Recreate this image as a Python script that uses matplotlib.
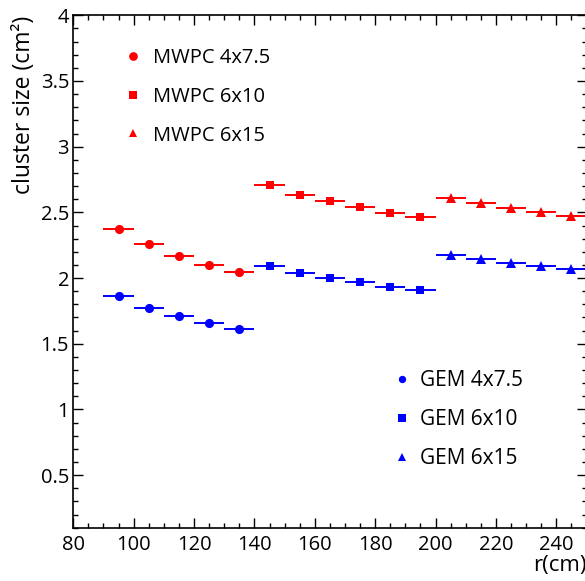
import matplotlib
matplotlib.use("Agg")
import matplotlib.pyplot as plt
from matplotlib.ticker import MultipleLocator, FuncFormatter
from matplotlib.lines import Line2D

plt.rcParams['font.family'] = ['Open Sans', 'DejaVu Sans']

# Cluster size vs radius for each chamber type and pad geometry
r_4x75 = [95, 105, 115, 125, 135]
r_6x10 = [145, 155, 165, 175, 185, 195]
r_6x15 = [205, 215, 225, 235, 245]
bin_half_width = 5

mwpc_4x75 = [2.37, 2.26, 2.17, 2.10, 2.05]
mwpc_6x10 = [2.71, 2.635, 2.585, 2.54, 2.495, 2.465]
mwpc_6x15 = [2.61, 2.575, 2.535, 2.505, 2.47]

gem_4x75 = [1.86, 1.775, 1.71, 1.655, 1.615]
gem_6x10 = [2.09, 2.035, 2.0, 1.97, 1.935, 1.91]
gem_6x15 = [2.175, 2.145, 2.115, 2.095, 2.07]

mwpc_labels = ["MWPC 4x7.5", "MWPC 6x10", "MWPC 6x15"]
gem_labels = ["GEM 4x7.5", "GEM 6x10", "GEM 6x15"]

W, H = 585, 581
fig = plt.figure(figsize=(W / 100, H / 100), dpi=100)
ax = fig.add_axes([73.3 / W, (H - 527.7) / H, (586.5 - 73.3) / W, (527.7 - 15.3) / H])

markers = [("o", 6.6), ("s", 6.4), ("^", 6.8)]
groups = [
    ("red", [(r_4x75, mwpc_4x75), (r_6x10, mwpc_6x10), (r_6x15, mwpc_6x15)]),
    ("blue", [(r_4x75, gem_4x75), (r_6x10, gem_6x10), (r_6x15, gem_6x15)]),
]
for col, sets in groups:
    for (xs, ys), (mk, ms) in zip(sets, markers):
        ax.errorbar(xs, ys, xerr=bin_half_width, fmt=mk, color=col, ms=ms,
                    elinewidth=1.4, capsize=0, mew=0)

ax.set_xlim(80, 250)
ax.set_ylim(0.1, 4)
ax.xaxis.set_major_locator(MultipleLocator(20))
ax.xaxis.set_minor_locator(MultipleLocator(5))
ax.yaxis.set_major_locator(MultipleLocator(0.5))
ax.yaxis.set_minor_locator(MultipleLocator(0.1))
ax.yaxis.set_major_formatter(FuncFormatter(lambda v, pos: "%g" % v))

ax.tick_params(which='both', direction='in', top=True, right=True, width=1.0,
               labelsize=14.5, colors='black')
ax.tick_params(which='major', length=7.2)
ax.tick_params(which='minor', length=3.6)
ax.tick_params(axis='x', which='major', pad=5)
ax.tick_params(axis='y', which='major', pad=3)
for s in ax.spines.values():
    s.set_linewidth(1.2)

ax.set_yticks([t for t in ax.get_yticks() if 0.45 <= t <= 4.01])

ax.set_xlabel("r(cm)", fontsize=16, loc='right', labelpad=0)
ax.set_ylabel("cluster size (cm²)", fontsize=16.5, loc='top', labelpad=3)


def handles(col, scale):
    return [Line2D([], [], ls='none', marker=m, color=col, ms=s * scale, mew=0)
            for m, s in markers]


leg1 = ax.legend(handles("red", 0.95), mwpc_labels, loc='upper left',
                 bbox_to_anchor=(0.0814, 0.9518), frameon=False, fontsize=14.5,
                 labelspacing=0.93, handlelength=1.0, handletextpad=0.5,
                 borderaxespad=0)
ax.add_artist(leg1)
ax.legend(handles("blue", 0.8), gem_labels, loc='upper left',
          bbox_to_anchor=(0.604, 0.3243), frameon=False, fontsize=15,
          labelspacing=0.87, handlelength=1.0, handletextpad=0.37,
          borderaxespad=0)

fig.savefig("out.png", dpi=100)
